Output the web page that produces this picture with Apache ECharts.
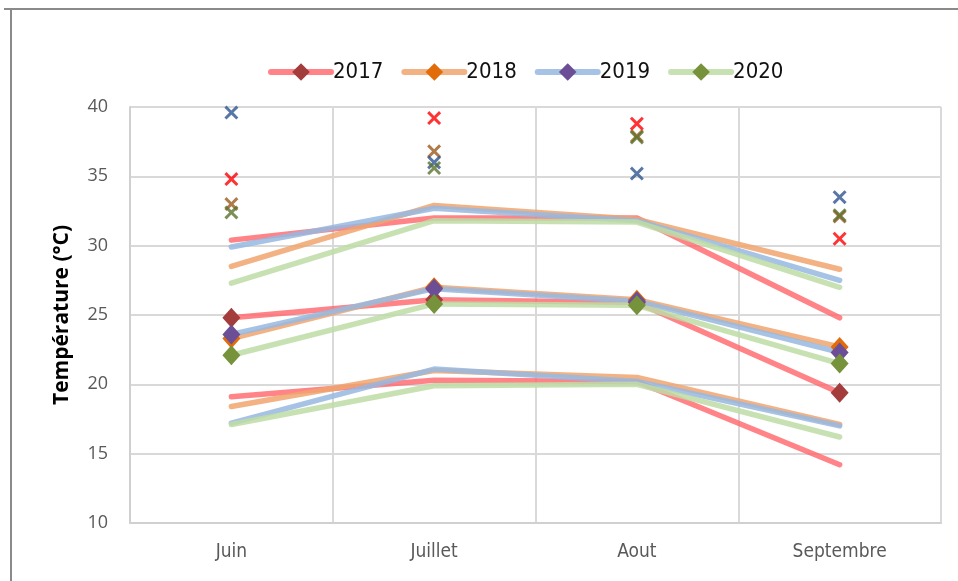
<!DOCTYPE html>
<html>
<head>
<meta charset="utf-8">
<script src="https://cdn.jsdelivr.net/npm/echarts@6/dist/echarts.min.js"></script>
<style>
  html, body { margin: 0; padding: 0; background: #fff; }
  #chart { width: 958px; height: 581px; }
</style>
</head>
<body>
<div id="chart"></div>
<script>
const months = ['Juin', 'Juillet', 'Aout', 'Septembre']
const years = ['2017', '2018', '2019', '2020']

// moyenne des max, moyenne, moyenne des min, max absolu
const maxVals = {
  '2017': [30.4, 32.0, 32.0, 24.8],
  '2018': [28.5, 32.9, 31.9, 28.3],
  '2019': [29.9, 32.7, 31.8, 27.5],
  '2020': [27.3, 31.8, 31.7, 27.0],
}
const meanVals = {
  '2017': [24.8, 26.1, 25.9, 19.4],
  '2018': [23.3, 27.0, 26.1, 22.7],
  '2019': [23.6, 26.9, 26.0, 22.3],
  '2020': [22.1, 25.8, 25.7, 21.5],
}
const minVals = {
  '2017': [19.1, 20.3, 20.2, 14.2],
  '2018': [18.4, 21.0, 20.5, 17.1],
  '2019': [17.2, 21.1, 20.2, 17.0],
  '2020': [17.1, 19.9, 20.0, 16.2],
}
const absMax = {
  '2017': [34.8, 39.2, 38.8, 30.5],
  '2018': [33.0, 36.8, 37.9, 32.1],
  '2019': [39.6, 36.0, 35.2, 33.5],
  '2020': [32.4, 35.6, 37.8, 32.2],
}

const lineColors = {
  '2017': 'rgba(255,100,105,0.8)',
  '2018': 'rgba(240,165,110,0.85)',
  '2019': 'rgba(150,185,225,0.85)',
  '2020': 'rgba(190,220,165,0.85)',
}
const diamondColors = { '2017': '#A33D3B', '2018': '#E36C0A', '2019': '#6B4E96', '2020': '#76933C' }
const crossColors = { '2017': '#FF0000', '2018': '#9C5A1E', '2019': '#2E5591', '2020': '#5B7330' }

const crossPath = 'path://M0,1.5L1.5,0L5,3.5L8.5,0L10,1.5L6.5,5L10,8.5L8.5,10L5,6.5L1.5,10L0,8.5L3.5,5Z'
const font = '"Liberation Sans Narrow", "DejaVu Sans Condensed", "Liberation Sans", sans-serif'

const series = []
years.forEach((y) => {
  series.push({
    name: 'max ' + y, type: 'line', data: maxVals[y], symbol: 'none',
    lineStyle: { width: 5.5, color: lineColors[y], cap: 'round' }, z: 2,
  })
  series.push({
    name: 'min ' + y, type: 'line', data: minVals[y], symbol: 'none',
    lineStyle: { width: 5.5, color: lineColors[y], cap: 'round' }, z: 2,
  })
})
years.forEach((y) => {
  series.push({
    name: y, type: 'line', data: meanVals[y], symbol: 'diamond', symbolSize: [18, 20],
    lineStyle: { width: 5.5, color: lineColors[y], cap: 'round' },
    itemStyle: { color: diamondColors[y] }, z: 3,
  })
})
years.forEach((y) => {
  series.push({
    name: 'abs ' + y, type: 'scatter', data: absMax[y], symbol: crossPath, symbolSize: 14,
    itemStyle: { color: crossColors[y] }, z: 4,
  })
})

const chart = echarts.init(document.getElementById('chart'))
chart.setOption({
  animation: false,
  backgroundColor: '#fff',
  graphic: [
    { type: 'line', shape: { x1: 4, y1: 9, x2: 958, y2: 9 }, style: { stroke: '#8a8a8a', lineWidth: 2 } },
    { type: 'line', shape: { x1: 11, y1: 9, x2: 11, y2: 581 }, style: { stroke: '#8a8a8a', lineWidth: 2 } },
  ],
  legend: {
    data: years,
    top: 56,
    left: 263,
    itemWidth: 60,
    itemHeight: 22,
    itemGap: 18,
    lineStyle: { width: 6 },
    textStyle: { fontFamily: font, fontSize: 22, color: '#111', padding: [0, 0, 0, -3] },
  },
  grid: { left: 130, right: 17, top: 107, bottom: 58 },
  xAxis: {
    type: 'category',
    data: months,
    boundaryGap: true,
    axisLine: { lineStyle: { color: '#d0d0d0', width: 2 } },
    axisTick: { show: false },
    axisLabel: { fontFamily: font, fontSize: 19, color: '#595959', margin: 20 },
    splitLine: { show: true, lineStyle: { color: '#d9d9d9', width: 2 } },
  },
  yAxis: {
    type: 'value',
    min: 10,
    max: 40,
    interval: 5,
    name: 'Température (°C)',
    nameLocation: 'middle',
    nameGap: 57,
    nameTextStyle: { fontFamily: 'Open Sans, sans-serif', fontSize: 21, fontWeight: 'bold', color: '#000' },
    axisLine: { show: true, lineStyle: { color: '#d0d0d0', width: 2 } },
    axisTick: { show: false },
    axisLabel: { fontFamily: 'Open Sans, sans-serif', fontSize: 18, color: '#595959', margin: 22 },
    splitLine: { lineStyle: { color: '#d9d9d9', width: 2 } },
  },
  series,
})
</script>
</body>
</html>
